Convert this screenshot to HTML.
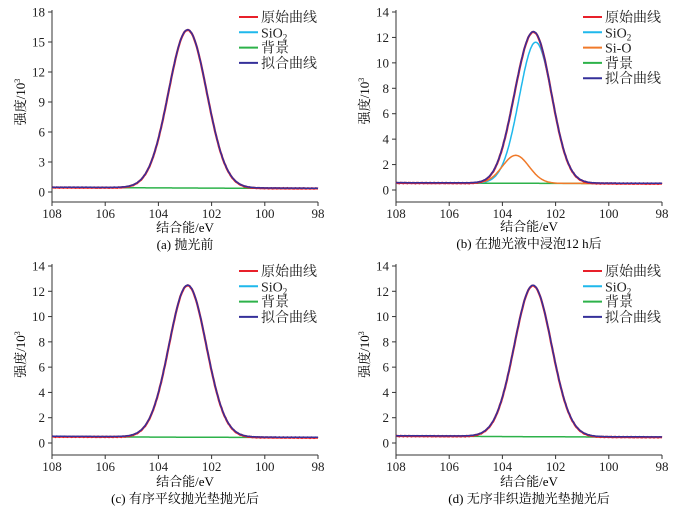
<!DOCTYPE html>
<html><head><meta charset="utf-8">
<style>
body{margin:0;background:#fff;}
svg{display:block;font-family:"Liberation Serif","Noto Serif CJK SC",serif;}
</style></head>
<body>
<svg id="s" width="699" height="510" viewBox="0 0 699 510" xmlns="http://www.w3.org/2000/svg">
<g id="g"></g>
<text x="185" y="232" font-size="13" text-anchor="middle">结合能/eV</text>
<text x="185" y="249" font-size="13" text-anchor="middle">(a) 抛光前</text>
<text x="529" y="231" font-size="13" text-anchor="middle">结合能/eV</text>
<text x="529" y="248" font-size="13" text-anchor="middle">(b) 在抛光液中浸泡12 h后</text>
<text x="185" y="486" font-size="13" text-anchor="middle">结合能/eV</text>
<text x="185" y="503" font-size="13" text-anchor="middle">(c) 有序平纹抛光垫抛光后</text>
<text x="529" y="486" font-size="13" text-anchor="middle">结合能/eV</text>
<text x="529" y="503" font-size="13" text-anchor="middle">(d) 无序非织造抛光垫抛光后</text>
</svg>
<script>
var NS="http://www.w3.org/2000/svg",G=document.getElementById('g');
function el(t,a,txt){var e=document.createElementNS(NS,t);for(var k in a)e.setAttribute(k,a[k]);if(txt!==undefined)e.textContent=txt;G.appendChild(e);return e;}
function panel(L,R,yTop,y0,axY,ymax,step,peaks,base0,base1,legend){
  var sx=function(v){return L+(108-v)/10*(R-L);};
  var sy=function(v){return y0-(v/ymax)*(y0-yTop);};
  el('line',{x1:L,y1:yTop-2,x2:L,y2:axY,stroke:'#333','stroke-width':1});
  el('line',{x1:L,y1:axY,x2:R,y2:axY,stroke:'#333','stroke-width':1});
  for(var v=0;v<=ymax;v+=step){el('line',{x1:L-4,y1:sy(v),x2:L,y2:sy(v),stroke:'#333'});
    el('text',{x:L-7,y:sy(v)+4.5,'font-size':13,'text-anchor':'end',fill:'#222'},v);}
  for(var b=108;b>=98;b-=2){el('line',{x1:sx(b),y1:axY,x2:sx(b),y2:axY+4,stroke:'#333'});
    el('text',{x:sx(b),y:axY+16,'font-size':13,'text-anchor':'middle',fill:'#222'},b);}
  var yl=el('text',{x:0,y:0,'font-size':13,'text-anchor':'middle',transform:'translate('+(L-27)+','+((yTop+y0)/2)+') rotate(-90)'},'强度/10');
  var ts=document.createElementNS(NS,'tspan');ts.setAttribute('font-size','8');ts.setAttribute('dy','-5');ts.textContent='3';yl.appendChild(ts);
  function bg(x){return base0+(base1-base0)*(108-x)/10;}
  function path(f,col,w,noise){var d='';for(var i=0;i<=400;i++){var x=108-i*10/400;var v=f(x)+(noise?(Math.sin(i*7.3)*0.015+Math.sin(i*2.1)*0.01):0);d+=(i?'L':'M')+sx(x).toFixed(1)+','+sy(v).toFixed(1);}el('path',{d:d,fill:'none',stroke:col,'stroke-width':w});}
  function g(p,x){return p[0]*Math.exp(-Math.pow(x-p[1],2)/(2*p[2]*p[2]));}
  var tot=function(x){var s=bg(x);peaks.forEach(function(p){s+=g(p,x);});return s;};
  path(bg,'#2db24a',1.5);
  if(peaks.length>1){peaks.forEach(function(p){path(function(x){return bg(x)+g(p,x);},p[3],1.5);});}
  path(tot,'#e8202a',2.2,true);
  path(function(x){return tot(x)+0.03;},'#35309a',1.5);
  legend.forEach(function(it,i){var yy=yTop+5+i*15.3;el('line',{x1:it[2],y1:yy,x2:it[2]+19,y2:yy,stroke:it[1],'stroke-width':2});
    var t=el('text',{x:it[2]+22,y:yy+5,'font-size':14,fill:'#222'},it[0]);
    if(it[0]==='SiO'){var s2=document.createElementNS(NS,'tspan');s2.setAttribute('font-size','9');s2.setAttribute('dy','3');s2.textContent='2';t.appendChild(s2);}});
}
var lg=function(x){return [['原始曲线','#e8202a',x],['SiO','#1fb8ec',x],['背景','#2db24a',x],['拟合曲线','#35309a',x]];};
panel(52,318,12,192,202,18,3,[[15.8,102.9,0.72,'#1fb8ec']],0.45,0.35,lg(239));
panel(396,662,12,190,202,14,2,[[11.1,102.75,0.62,'#1fb8ec'],[2.2,103.5,0.5,'#f07a2a']],0.55,0.5,
 [['原始曲线','#e8202a',583],['SiO','#1fb8ec',583],['Si-O','#f07a2a',583],['背景','#2db24a',583],['拟合曲线','#35309a',583]]);
panel(52,318,266,443,455,14,2,[[12.0,102.9,0.7,'#1fb8ec']],0.5,0.42,lg(239));
panel(396,662,266,443,455,14,2,[[11.95,102.85,0.7,'#1fb8ec']],0.55,0.45,lg(583));
</script>
</body></html>
